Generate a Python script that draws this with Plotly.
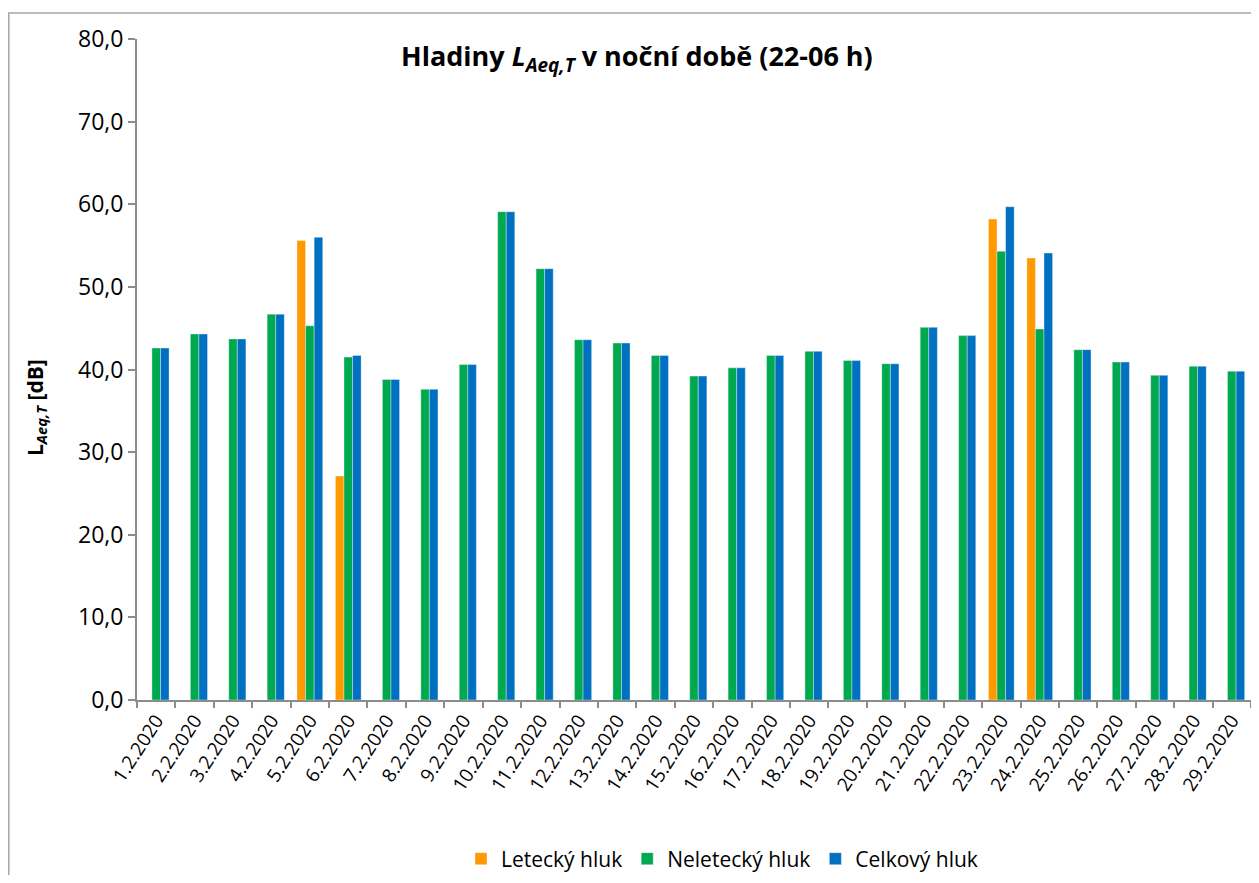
import plotly.graph_objects as go

dates = ["1.2.2020", "2.2.2020", "3.2.2020", "4.2.2020", "5.2.2020", "6.2.2020", "7.2.2020",
         "8.2.2020", "9.2.2020", "10.2.2020", "11.2.2020", "12.2.2020", "13.2.2020", "14.2.2020",
         "15.2.2020", "16.2.2020", "17.2.2020", "18.2.2020", "19.2.2020", "20.2.2020", "21.2.2020",
         "22.2.2020", "23.2.2020", "24.2.2020", "25.2.2020", "26.2.2020", "27.2.2020", "28.2.2020",
         "29.2.2020"]

letecky = [None, None, None, None, 55.6, 27.1, None, None, None, None, None, None, None, None,
           None, None, None, None, None, None, None, None, 58.2, 53.5, None, None, None, None, None]
neletecky = [42.6, 44.3, 43.7, 46.7, 45.3, 41.5, 38.8, 37.6, 40.6, 59.1, 52.2, 43.6, 43.2, 41.7,
             39.2, 40.2, 41.7, 42.2, 41.1, 40.7, 45.1, 44.1, 54.3, 44.9, 42.4, 40.9, 39.3, 40.4, 39.8]
celkovy = [42.6, 44.3, 43.7, 46.7, 56.0, 41.7, 38.8, 37.6, 40.6, 59.1, 52.2, 43.6, 43.2, 41.7,
           39.2, 40.2, 41.7, 42.2, 41.1, 40.7, 45.1, 44.1, 59.7, 54.1, 42.4, 40.9, 39.3, 40.4, 39.8]

series = [("Letecký hluk", letecky, "#FF9900"),
          ("Neletecký hluk", neletecky, "#00A94F"),
          ("Celkový hluk", celkovy, "#0070C0")]

FONT = "Open Sans, Lato, sans-serif"

fig = go.Figure()
for name, vals, col in series:
    fig.add_trace(go.Bar(
        x=dates, y=vals, name=name,
        marker=dict(color=col, line=dict(color="rgba(255,255,255,0.6)", width=0.6)),
    ))

# page offset (body margin) of 8 px; target page coords converted to figure coords
OFF = 8
W, H = 1259 - 2 * OFF, 883 - 2 * OFF
# plot area on page: x 137..1251, y 39..700
L = 137 - OFF
T = 39 - OFF
R = W - (1251 - OFF)
B = H - (700 - OFF)
pw, ph = W - L - R, H - T - B

def px(x):
    return (x - OFF - L) / pw

def py(y):
    return (H - B - (y - OFF)) / ph

fig.update_layout(
    width=W, height=H,
    margin=dict(l=L, r=R, t=T, b=B, pad=0, autoexpand=False),
    paper_bgcolor="white", plot_bgcolor="white",
    barmode="group", bargap=0.33, bargroupgap=0,
    separators=", ",
    font=dict(family=FONT, color="#000000"),
    showlegend=True,
    legend=dict(orientation="h", x=px(722), xanchor="center", y=py(859), yanchor="middle",
                font=dict(size=21, family=FONT), traceorder="normal",
                itemwidth=30, tracegroupgap=0),
    xaxis=dict(
        type="category", showline=True, linecolor="#8C8C8C", linewidth=2,
        ticks="outside", ticklen=6, tickcolor="#8C8C8C", tickwidth=2,
        tickson="boundaries", tickangle=-57,
        tickfont=dict(size=19, family=FONT), showgrid=False, zeroline=False,
    ),
    yaxis=dict(
        range=[0, 80], dtick=10, tickformat=".1f",
        showline=True, linecolor="#8C8C8C", linewidth=2,
        ticks="outside", ticklen=7, tickcolor="#8C8C8C", tickwidth=2,
        tickfont=dict(size=23, family=FONT), showgrid=False, zeroline=False,
    ),
    shapes=[dict(type="rect", xref="paper", yref="paper",
                 x0=px(8.8), x1=px(1300), y0=py(920), y1=py(13),
                 line=dict(color="#A6A6A6", width=1.5), layer="below")],
    annotations=[
        dict(text="<b>Hladiny <i>L<sub>Aeq,T</sub></i> v noční době (22-06 h)</b>",
             xref="paper", yref="paper", x=px(637), y=py(57), xanchor="center", yanchor="middle",
             showarrow=False, font=dict(size=27, family=FONT)),
        dict(text="<b>L<sub><i>Aeq,T</i></sub> [dB]</b>",
             xref="paper", yref="paper", x=px(36), y=py(408), xanchor="center", yanchor="middle",
             textangle=-90, showarrow=False, font=dict(size=21, family=FONT)),
    ],
)

fig.write_html("out.html")
